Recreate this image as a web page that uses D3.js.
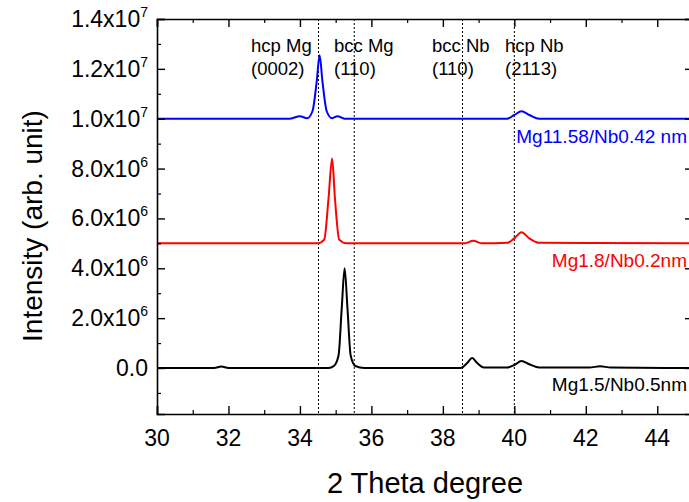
<!DOCTYPE html>
<meta charset="utf-8">
<script src="https://cdn.jsdelivr.net/npm/d3@7"></script>
<style>
body { margin: 0; background: #fff; }
text { font-family: "Liberation Sans", Arial, sans-serif; fill: #000; }
</style>
<body>
<script>

// XRD scans (2 theta in degrees, intensity in counts)
var blackX = [30, 31.6, 31.8, 32.0, 34.8, 34.95, 35.08, 35.17, 35.25, 35.33, 35.42, 35.55, 35.8, 38.5, 38.68, 38.82, 38.96, 39.15, 39.8, 40.0, 40.2, 40.42, 40.7, 42.1, 42.4, 42.7, 45];
var blackY = [0, 0, 0.06e6, 0, 0, 0.08e6, 0.5e6, 2.4e6, 4.0e6, 2.4e6, 0.5e6, 0.08e6, 0, 0, 0.2e6, 0.4e6, 0.2e6, 0.02e6, 0.02e6, 0.12e6, 0.28e6, 0.15e6, 0.02e6, 0.02e6, 0.07e6, 0.02e6, 0];

var redX = [30, 34.5, 34.68, 34.8, 34.9, 34.98, 35.1, 35.3, 38.6, 38.85, 39.1, 39.8, 40.0, 40.2, 40.42, 40.7, 45];
var redY = [5.0e6, 5.0e6, 5.15e6, 6.8e6, 8.4e6, 6.8e6, 5.15e6, 5.0e6, 5.0e6, 5.1e6, 5.0e6, 5.02e6, 5.2e6, 5.45e6, 5.2e6, 5.02e6, 5.0e6];

var blueX = [30, 33.7, 34.0, 34.2, 34.35, 34.47, 34.55, 34.63, 34.75, 34.9, 35.05, 35.25, 39.8, 40.0, 40.2, 40.42, 40.7, 45];
var blueY = [1.0e7, 1.0e7, 1.01e7, 1.002e7, 1.03e7, 1.15e7, 1.255e7, 1.15e7, 1.03e7, 1.002e7, 1.01e7, 1.0e7, 1.0e7, 1.015e7, 1.03e7, 1.015e7, 1.0e7, 1.0e7];

var seriesNames = ["Mg11.58/Nb0.42 nm", "Mg1.8/Nb0.2nm", "Mg1.5/Nb0.5nm"];
var seriesColors = ["#0000ff", "#ff0000", "#000000"];

// reference peak positions and their labels
var refPos = [34.52, 35.52, 38.55, 40.0];
var refLine1 = ["hcp Mg", "bcc Mg", "bcc Nb", "hcp Nb"];
var refLine2 = ["(0002)", "(110)", "(110)", "(2113)"];

var xTicks = [30, 32, 34, 36, 38, 40, 42, 44];
var yMantissa = ["1.4", "1.2", "1.0", "8.0", "6.0", "4.0", "2.0"];
var yExp = [7, 7, 7, 6, 6, 6, 6];
var yTicks = [1.4e7, 1.2e7, 1.0e7, 8e6, 6e6, 4e6, 2e6, 0];

var width = 689, height = 502;
var margin = {top: 19, left: 157, right: -4, bottom: 88};

var svg = d3.select("body").append("svg")
    .attr("width", width)
    .attr("height", height);

var x = d3.scaleLinear().domain([30, 45]).range([margin.left, width - margin.right]);
var y = d3.scaleLinear().domain([-1.845e6, 1.4e7]).range([height - margin.bottom, margin.top]);

// dotted reference lines
svg.selectAll(".ref")
    .data(refPos)
    .enter().append("line")
    .attr("x1", function(d) { return x(d); })
    .attr("x2", function(d) { return x(d); })
    .attr("y1", y(1.4e7))
    .attr("y2", y(-1.845e6))
    .attr("stroke", "#000")
    .attr("stroke-width", 1)
    .attr("stroke-dasharray", "2,2");

// curves
var line = d3.line()
    .x(function(d) { return x(d[0]); })
    .y(function(d) { return y(d[1]); })
    .curve(d3.curveMonotoneX);

var series = [d3.zip(blueX, blueY), d3.zip(redX, redY), d3.zip(blackX, blackY)];
svg.selectAll(".scan")
    .data(series)
    .enter().append("path")
    .attr("d", line)
    .attr("fill", "none")
    .attr("stroke", function(d, i) { return seriesColors[i]; })
    .attr("stroke-width", 2);

// frame + inward ticks
var xMinor = d3.range(31, 45, 2);
var yMinor = d3.range(-1e6, 1.4e7, 2e6);

var axisB = d3.axisBottom(x).tickValues(xTicks).tickSize(-8).tickFormat("");
var axisT = d3.axisTop(x).tickValues(xTicks).tickSize(-8).tickFormat("");
var axisL = d3.axisLeft(y).tickValues(yTicks).tickSize(-8).tickFormat("");
var axisR = d3.axisRight(y).tickValues(yTicks).tickSize(-8).tickFormat("");

function drawAxis(ax, minorVals, tr) {
  var g = svg.append("g").attr("transform", tr).call(ax);
  g.select(".domain").attr("stroke-width", 1.6);
  g.selectAll(".tick line").attr("stroke-width", 1.4);
  var m = svg.append("g").attr("transform", tr)
      .call(ax.tickValues(minorVals).tickSize(-4).tickSizeOuter(0));
  m.select(".domain").remove();
  m.selectAll(".tick line").attr("stroke-width", 1.2);
}
drawAxis(axisB, xMinor, "translate(0," + y(-1.845e6) + ")");
drawAxis(axisT, xMinor, "translate(0," + y(1.4e7) + ")");
drawAxis(axisL, yMinor, "translate(" + x(30) + ",0)");
drawAxis(axisR, yMinor, "translate(" + x(45) + ",0)");

// x tick labels
svg.selectAll(".xl")
    .data(xTicks)
    .enter().append("text")
    .attr("x", function(d) { return x(d); })
    .attr("y", y(-1.845e6) + 32)
    .attr("text-anchor", "middle")
    .attr("font-size", "23px")
    .text(String);

// y tick labels with powers of ten
var yl = svg.selectAll(".yl")
    .data(yTicks)
    .enter().append("text")
    .attr("x", x(30) - 9)
    .attr("y", function(d) { return y(d) + 8; })
    .attr("text-anchor", "end")
    .attr("font-size", "23px");
yl.each(function(d, i) {
  var t = d3.select(this);
  if (d === 0) { t.text("0.0"); return; }
  t.append("tspan").text(yMantissa[i] + "x10");
  t.append("tspan").attr("dy", -10).attr("font-size", "14px").text(yExp[i]);
});

// axis titles
svg.append("text")
    .attr("transform", "translate(42," + 226 + ") rotate(-90)")
    .attr("text-anchor", "middle")
    .attr("font-size", "28px")
    .text("Intensity (arb. unit)");
svg.append("text")
    .attr("x", 425)
    .attr("y", 493)
    .attr("text-anchor", "middle")
    .attr("font-size", "29px")
    .text("2 Theta degree");

// peak annotations
var annX = [251, 334, 432, 505];
var ann = svg.selectAll(".ann")
    .data(refLine1)
    .enter().append("text")
    .attr("font-size", "18.5px");
ann.append("tspan")
    .attr("x", function(d, i) { return annX[i]; })
    .attr("y", 52)
    .text(function(d) { return d; });
ann.append("tspan")
    .attr("x", function(d, i) { return annX[i]; })
    .attr("y", 75)
    .text(function(d, i) { return refLine2[i]; });

// series labels
svg.selectAll(".sl")
    .data(seriesNames)
    .enter().append("text")
    .attr("x", 687)
    .attr("y", function(d, i) { return [143, 267, 391][i]; })
    .attr("text-anchor", "end")
    .attr("font-size", "19px")
    .style("fill", function(d, i) { return seriesColors[i]; })
    .text(String);

</script>
</body>
